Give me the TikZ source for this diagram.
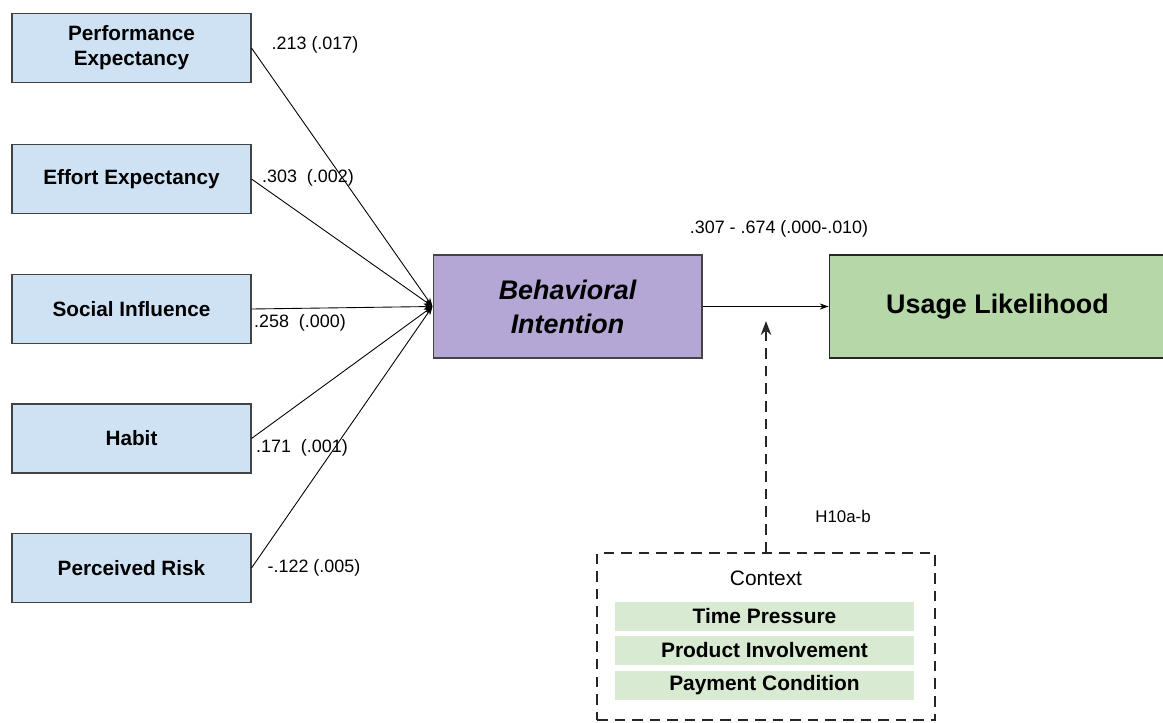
\documentclass[tikz,border=0pt]{standalone}
\usepackage{fontspec}
\setmainfont{Liberation Sans}
\usetikzlibrary{arrows.meta}
\definecolor{boxblue}{HTML}{CFE2F3}
\definecolor{bipurple}{HTML}{B4A7D6}
\definecolor{ulgreen}{HTML}{B6D7A8}
\definecolor{ctxgreen}{HTML}{D9EAD3}
\definecolor{edgegray}{HTML}{434343}

\begin{document}
\begin{tikzpicture}[x=0.02cm,y=-0.02cm,
  construct/.style={draw=edgegray,fill=boxblue,line width=0.6pt,minimum width=4.78cm,minimum height=1.38cm,
    inner sep=0pt,align=center,font=\bfseries\fontsize{11.8}{14.2}\selectfont},
  coef/.style={inner sep=0pt,font=\fontsize{10.2}{12}\selectfont},
  ctxitem/.style={fill=ctxgreen,minimum width=5.98cm,minimum height=0.58cm,inner sep=0pt,
    font=\bfseries\fontsize{11.9}{13}\selectfont},
  effect/.style={-{Stealth[length=5pt,width=3.5pt]},line width=0.5pt},
  moddash/.style={draw=black!85,line width=1pt,dash pattern=on 6pt off 4pt}]
  \useasboundingbox (0,0) rectangle (1163,723);

  % predictors
  \node[construct] (pe) at (131.5,48) {Performance\\Expectancy};
  \node[construct] (ee) at (131.5,179) {Effort Expectancy};
  \node[construct] (si) at (131.5,309) {Social Influence};
  \node[construct] (hb) at (131.5,438.5) {Habit};
  \node[construct] (pr) at (131.5,568) {Perceived Risk};

  \node[construct,fill=bipurple,minimum width=5.38cm,minimum height=2.06cm,
    font=\bfseries\itshape\fontsize{15.3}{19.4}\selectfont] (bi) at (567.5,306.5) {Behavioral\\Intention};
  \node[construct,draw=black!85,fill=ulgreen,minimum width=6.74cm,minimum height=2.06cm,
    font=\bfseries\fontsize{15.3}{18}\selectfont] (ul) at (997.5,306.5) {Usage Likelihood};

  \foreach \src in {pe,ee,si,hb,pr}
    \draw[effect] (\src.east) -- (bi.west);
  \draw[effect] (bi.east) -- (ul.west);

  % path coefficients
  \node[coef] (cpe) at (315,45) {.213 (.017)};
  \node[coef] (cee) at (308,178) {.303\ \ (.002)};
  \node[coef] (csi) at (300,323) {.258\ \ (.000)};
  \node[coef] (chb) at (302,448) {.171\ \ (.001)};
  \node[coef] (cpr) at (314,568) {-.122 (.005)};
  \node[coef] (cbi) at (779,229) {.307 - .674 (.000-.010)};

  % moderator
  \node[moddash,minimum width=6.76cm,minimum height=3.34cm,inner sep=0pt] (ctx) at (766,636.5) {};
  \node[inner sep=0pt,font=\fontsize{11.9}{13}\selectfont] (ctxtitle) at (766,578) {Context};
  \foreach \lbl/\yy [count=\i] in {Time Pressure/616.5,Product Involvement/650.5,Payment Condition/685.5}
    \node[ctxitem] (item\i) at (764.5,\yy) {\lbl};
  \coordinate (mod) at (766,321);
  \draw[moddash,-{Stealth[length=8pt,width=6pt]}] (ctx.north) -- (mod);
  \node[coef,font=\fontsize{9.6}{11}\selectfont] (hyp) at (843,516) {H10a-b};
\end{tikzpicture}
\end{document}
